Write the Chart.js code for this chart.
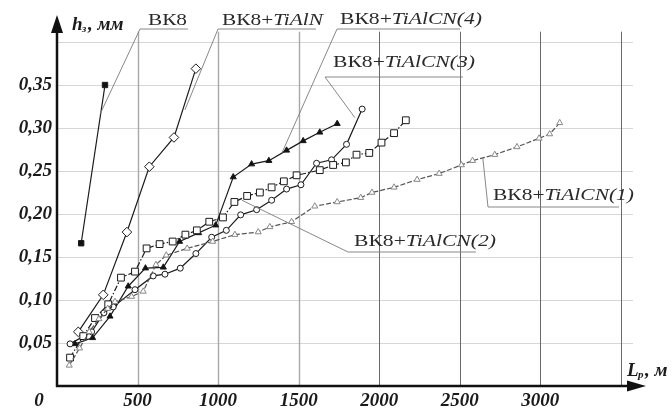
<!DOCTYPE html>
<html><head><meta charset="utf-8">
<script src="https://cdn.jsdelivr.net/npm/chart.js@4/dist/chart.umd.min.js"></script>
<style>html,body{margin:0;padding:0;background:#fff}#wrap{width:672px;height:415px;position:relative}</style>
</head><body><div id="wrap"><canvas id="c" width="672" height="415"></canvas></div>
<script>
// ---- data (L, m ; h, mm) ----
const xTickLabels = [500, 1000, 1500, 2000, 2500, 3000];
const yTickLabels = [0.05, 0.10, 0.15, 0.20, 0.25, 0.30, 0.35];

const vk8_L = [150, 298];
const vk8_h = [0.166, 0.350];

const tialn_L = [132, 287, 434, 573, 726, 862];
const tialn_h = [0.063, 0.106, 0.179, 0.255, 0.289, 0.369];

const c4_L = [112, 221, 329, 442, 549, 660, 761, 879, 985, 1094, 1208, 1315, 1425, 1528, 1631, 1739];
const c4_h = [0.049, 0.056, 0.081, 0.116, 0.137, 0.138, 0.168, 0.178, 0.187, 0.243, 0.258, 0.262, 0.274, 0.285, 0.295, 0.305];

const c3_L = [81, 215, 291, 349, 484, 597, 670, 765, 862, 960, 1051, 1140, 1239, 1332, 1425, 1514, 1611, 1704, 1797, 1894];
const c3_h = [0.049, 0.063, 0.085, 0.092, 0.112, 0.128, 0.130, 0.137, 0.154, 0.173, 0.181, 0.199, 0.205, 0.216, 0.229, 0.234, 0.259, 0.263, 0.281, 0.322];

const c2_L = [81, 163, 236, 318, 397, 484, 556, 637, 718, 797, 868, 945, 1030, 1101, 1180, 1259, 1332, 1408, 1487, 1631, 1714, 1793, 1859, 1938, 2014, 2092, 2165];
const c2_h = [0.033, 0.058, 0.079, 0.095, 0.126, 0.133, 0.160, 0.165, 0.168, 0.176, 0.181, 0.191, 0.196, 0.214, 0.221, 0.225, 0.231, 0.238, 0.245, 0.251, 0.257, 0.260, 0.269, 0.271, 0.283, 0.294, 0.309];

const c1_L = [76, 140, 200, 260, 315, 360, 463, 535, 614, 678, 808, 966, 1104, 1249, 1321, 1456, 1600, 1739, 1885, 1955, 2092, 2235, 2372, 2510, 2579, 2717, 2855, 2992, 3058, 3120];
const c1_h = [0.024, 0.044, 0.063, 0.078, 0.090, 0.098, 0.104, 0.110, 0.141, 0.152, 0.160, 0.168, 0.176, 0.179, 0.185, 0.191, 0.209, 0.214, 0.219, 0.225, 0.231, 0.240, 0.247, 0.257, 0.262, 0.269, 0.278, 0.288, 0.293, 0.306];

const seriesNames = ['ВК8', 'ВК8+TiAlN', 'ВК8+TiAlCN(4)', 'ВК8+TiAlCN(3)', 'ВК8+TiAlCN(2)', 'ВК8+TiAlCN(1)'];

// leader targets (data coords)
const leaderL = [267, 794, 1396, 1849, 1148, 2643];
const leaderH = [0.316, 0.321, 0.271, 0.312, 0.216, 0.265];

const pts = (L, h) => L.map((v, i) => ({x: v, y: h[i]}));

function ds(label, L, h, o) {
  return Object.assign({
    label, data: pts(L, h), showLine: true, borderColor: '#1a1a1a', borderWidth: 1.2,
    pointBorderColor: '#1a1a1a', pointBackgroundColor: '#fff', pointBorderWidth: 1,
    pointRadius: 3, tension: 0
  }, o);
}

const datasets = [
  ds(seriesNames[5], c1_L, c1_h, {borderColor: '#555', borderDash: [5, 2], pointStyle: 'triangle', pointRadius: 3.5, pointBorderColor: '#888'}),
  ds(seriesNames[4], c2_L, c2_h, {borderDash: [6, 2, 1.5, 2], pointStyle: 'rect', pointRadius: 4.8}),
  ds(seriesNames[3], c3_L, c3_h, {pointStyle: 'circle', pointRadius: 3}),
  ds(seriesNames[2], c4_L, c4_h, {pointStyle: 'triangle', pointRadius: 3.5, pointBackgroundColor: '#111'}),
  ds(seriesNames[1], tialn_L, tialn_h, {pointStyle: 'rectRot', pointRadius: 4.8}),
  ds(seriesNames[0], vk8_L, vk8_h, {pointStyle: 'rect', pointRadius: 3.8, pointBackgroundColor: '#111'})
];

const TICKFONT = 'bold italic 19px "Liberation Serif"';

function drawLabel(ctx, left, cy, plain, italic, targetW) {
  ctx.save();
  ctx.fillStyle = '#2a2a2a';
  ctx.textAlign = 'left';
  ctx.textBaseline = 'middle';
  ctx.font = '17px "Liberation Serif"';
  const w1 = ctx.measureText(plain).width;
  ctx.font = 'italic 17px "Liberation Serif"';
  const w2 = italic ? ctx.measureText(italic).width : 0;
  const sx = targetW / (w1 + w2);
  ctx.translate(left, cy);
  ctx.scale(sx, 1);
  ctx.font = '17px "Liberation Serif"';
  ctx.fillText(plain, 0, 0);
  if (italic) { ctx.font = 'italic 17px "Liberation Serif"'; ctx.fillText(italic, w1, 0); }
  ctx.restore();
}

const decor = {
  id: 'decor',
  beforeDatasetsDraw(chart) {
    const {ctx, scales: {x, y}} = chart;
    ctx.save();
    for (let v = 500; v <= 3500; v += 500) {
      const px = Math.round(x.getPixelForValue(v)) + 0.5;
      ctx.strokeStyle = v <= 1500 ? '#a8a8a8' : '#6a6a6a';
      ctx.lineWidth = v <= 1500 ? 1.4 : 1;
      ctx.beginPath(); ctx.moveTo(px, y.getPixelForValue(0.412)); ctx.lineTo(px, y.getPixelForValue(0)); ctx.stroke();
    }
    ctx.restore();
  },
  afterDatasetsDraw(chart) {
    const {ctx, scales: {x, y}} = chart;
    const X = v => x.getPixelForValue(v), Y = v => y.getPixelForValue(v);
    ctx.save();
    // axes with arrows
    ctx.strokeStyle = '#111'; ctx.fillStyle = '#111'; ctx.lineWidth = 2.5;
    const x0 = X(0), y0 = Y(0);
    ctx.beginPath(); ctx.moveTo(x0, y0 + 1); ctx.lineTo(x0, 30); ctx.stroke();
    ctx.beginPath(); ctx.moveTo(x0, 15); ctx.lineTo(x0 - 6, 33); ctx.lineTo(x0 + 6, 33); ctx.closePath(); ctx.fill();
    ctx.beginPath(); ctx.moveTo(x0 - 1, y0); ctx.lineTo(630, y0); ctx.stroke();
    ctx.beginPath(); ctx.moveTo(646, y0); ctx.lineTo(627, y0 - 5.5); ctx.lineTo(627, y0 + 5.5); ctx.closePath(); ctx.fill();

    // x tick labels
    ctx.fillStyle = '#1a1a1a';
    ctx.font = TICKFONT; ctx.textAlign = 'center'; ctx.textBaseline = 'middle';
    xTickLabels.forEach(v => ctx.fillText(String(v), X(v), 401));
    ctx.fillText('0', 39, 401);

    // axis titles
    ctx.textAlign = 'left'; ctx.textBaseline = 'alphabetic';
    ctx.font = TICKFONT;
    ctx.fillText('h', 72, 30);
    ctx.font = 'bold italic 11px "Liberation Serif"';
    ctx.fillText('з', 82, 32);
    ctx.font = TICKFONT;
    ctx.fillText(', мм', 88, 30);
    ctx.fillText('L', 627, 376);
    ctx.font = 'bold italic 11px "Liberation Serif"';
    ctx.fillText('р', 638, 378);
    ctx.font = TICKFONT;
    ctx.fillText(', м', 645, 376);

    // annotations
    const ann = [
      {t: 148, cy: 21, u: 29, u1: 140, u2: 188, p: 'ВК8', i: '', w: 39, lx: 140},
      {t: 222, cy: 21, u: 29, u1: 218, u2: 316, p: 'ВК8+', i: 'TiAlN', w: 101, lx: 218},
      {t: 340, cy: 20, u: 29, u1: 337, u2: 460, p: 'ВК8+', i: 'TiAlCN(4)', w: 142, lx: 337},
      {t: 333, cy: 63, u: 77, u1: 325, u2: 463, p: 'ВК8+', i: 'TiAlCN(3)', w: 142, lx: 325},
      {t: 354, cy: 242, u: 252, u1: 348, u2: 476, p: 'ВК8+', i: 'TiAlCN(2)', w: 142, lx: 348},
      {t: 493, cy: 196, u: 207, u1: 488, u2: 619, p: 'ВК8+', i: 'TiAlCN(1)', w: 141, lx: 488}
    ];
    ann.forEach((a, k) => {
      ctx.strokeStyle = '#7a7a7a'; ctx.lineWidth = 0.9;
      ctx.beginPath();
      ctx.moveTo(a.u2, a.u); ctx.lineTo(a.u1, a.u);
      ctx.moveTo(a.lx, a.u); ctx.lineTo(X(leaderL[k]), Y(leaderH[k]));
      ctx.stroke();
      drawLabel(ctx, a.t, a.cy, a.p, a.i, a.w);
    });
    ctx.restore();
  }
};

new Chart(document.getElementById('c'), {
  type: 'scatter',
  data: {datasets},
  options: {
    responsive: false, animation: false, devicePixelRatio: 1,
    layout: {padding: {top: 42, right: 39, left: 0, bottom: 0}},
    plugins: {legend: {display: false}, tooltip: {enabled: false}},
    scales: {
      x: {
        type: 'linear', min: 0, max: 3575,
        grid: {display: false}, border: {display: false},
        afterFit: s => { s.height = 29; },
        ticks: {display: false, stepSize: 500}
      },
      y: {
        type: 'linear', min: 0, max: 0.40,
        grid: {color: '#d6d6d6', lineWidth: 1, drawTicks: false}, border: {display: false},
        afterFit: s => { s.width = 57; },
        ticks: {
          stepSize: 0.05, padding: 5,
          color: '#1a1a1a', font: {family: '"Liberation Serif"', size: 19, style: 'italic', weight: 'bold'},
          callback: v => yTickLabels.some(t => Math.abs(t - v) < 1e-6) ? v.toFixed(2).replace('.', ',') : ''
        }
      }
    }
  },
  plugins: [decor]
});
</script>
</body></html>
